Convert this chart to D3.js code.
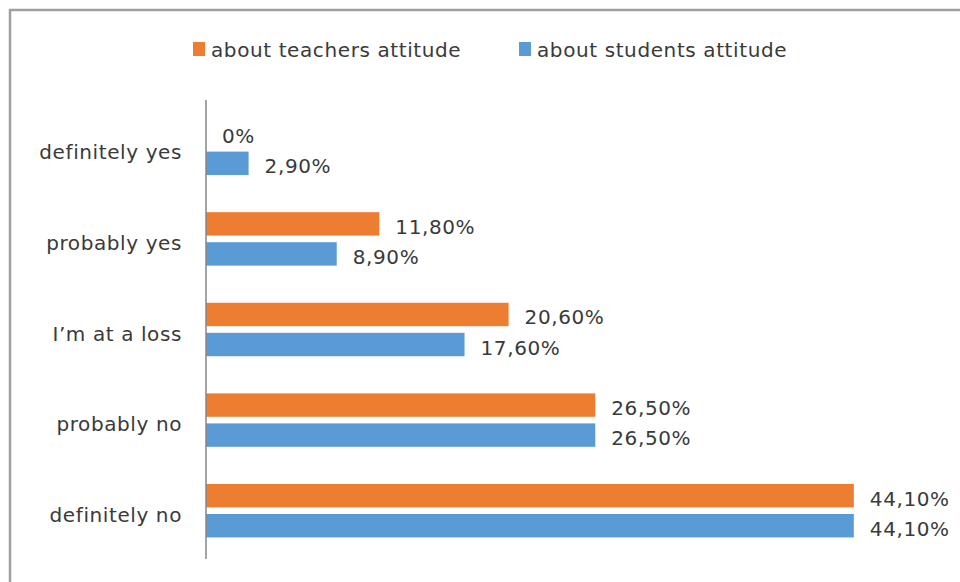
<!DOCTYPE html>
<html>
<head>
<meta charset="utf-8">
<script src="https://cdn.jsdelivr.net/npm/d3@7"></script>
<style>
  html, body { margin: 0; padding: 0; background: #ffffff; }
  svg { display: block; }
  text { font-family: "DejaVu Sans", "Open Sans", sans-serif; fill: #3a3a3a; letter-spacing: 0.6px; }
</style>
</head>
<body>
<svg id="chart" width="960" height="582"></svg>
<script>
// Survey answers, top to bottom
const categories = ["definitely yes", "probably yes", "I\u2019m at a loss", "probably no", "definitely no"];
const seriesNames = ["about teachers attitude", "about students attitude"];
const teachersValues = [0, 11.8, 20.6, 26.5, 44.1];
const studentsValues = [2.9, 8.9, 17.6, 26.5, 44.1];
const seriesColors = ["#ED7D31", "#5B9BD5"];

const svg = d3.select("#chart");
const W = 960, H = 582;
const FONT_SIZE = 20;

// outer chart frame
svg.append("rect")
  .attr("x", 10).attr("y", 10)
  .attr("width", W + 10).attr("height", H + 10)
  .attr("fill", "#ffffff")
  .attr("stroke", "#a0a0a0")
  .attr("stroke-width", 2.5);

const x = d3.scaleLinear().domain([0, 50]).range([206, 206 + 50 * 14.69]);
const y = d3.scaleBand().domain(categories).range([103, 556])
  .paddingInner(0.41).paddingOuter(0.205);
const ySub = d3.scaleBand().domain(seriesNames).range([0, y.bandwidth()])
  .paddingInner(0.22);

const rows = categories.map((c, i) => ({
  category: c,
  values: [
    { series: seriesNames[0], value: teachersValues[i], color: seriesColors[0] },
    { series: seriesNames[1], value: studentsValues[i], color: seriesColors[1] }
  ]
}));

const fmt = v => v === 0 ? "0%" : d3.format(".2f")(v).replace(".", ",") + "%";

const groups = svg.append("g").selectAll("g.row")
  .data(rows).join("g")
  .attr("class", "row")
  .attr("transform", d => `translate(0,${y(d.category)})`);

groups.selectAll("rect")
  .data(d => d.values).join("rect")
  .attr("x", x(0))
  .attr("y", d => ySub(d.series))
  .attr("width", d => x(d.value) - x(0))
  .attr("height", ySub.bandwidth())
  .attr("fill", d => d.color);

groups.selectAll("text.val")
  .data(d => d.values).join("text")
  .attr("class", "val")
  .attr("x", d => x(d.value) + 16)
  .attr("y", d => ySub(d.series) + ySub.bandwidth() / 2 + 10)
  .attr("font-size", FONT_SIZE)
  .text(d => fmt(d.value));

// category axis (line only, no ticks)
const yAxis = d3.axisLeft(y).tickSize(0).tickPadding(24);
const axisG = svg.append("g")
  .attr("transform", `translate(${x(0)},0)`)
  .call(yAxis);
axisG.select(".domain")
  .attr("d", `M0,100V559`)
  .attr("stroke", "#868686")
  .attr("stroke-width", 1.5);
axisG.selectAll(".tick text")
  .attr("font-family", "\"DejaVu Sans\", sans-serif")
  .attr("font-size", FONT_SIZE)
  .attr("fill", "#3a3a3a")
  .attr("dy", "0.55em");

// legend
const legendItems = [
  { name: seriesNames[0], color: seriesColors[0], x: 193 },
  { name: seriesNames[1], color: seriesColors[1], x: 519 }
];
const lg = svg.append("g").selectAll("g").data(legendItems).join("g")
  .attr("transform", d => `translate(${d.x},42)`);
lg.append("rect").attr("width", 12).attr("height", 14).attr("fill", d => d.color);
lg.append("text").attr("x", 18).attr("y", 14.5).attr("font-size", FONT_SIZE).text(d => d.name);
</script>
</body>
</html>
